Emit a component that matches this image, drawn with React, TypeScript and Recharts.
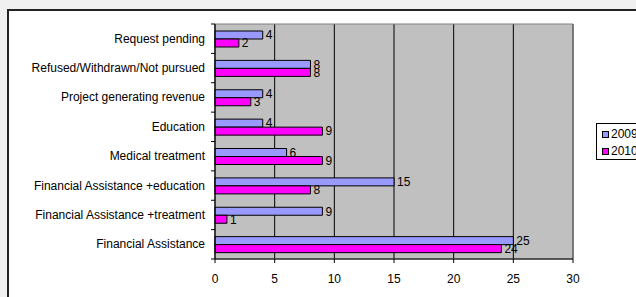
import {
  Bar,
  BarChart,
  CartesianGrid,
  LabelList,
  ReferenceArea,
  XAxis,
  YAxis,
} from 'recharts'

const categories = [
  'Request pending',
  'Refused/Withdrawn/Not pursued',
  'Project generating revenue',
  'Education',
  'Medical treatment',
  'Financial Assistance +education',
  'Financial Assistance +treatment',
  'Financial Assistance',
]
const values2009 = [4, 8, 4, 4, 6, 15, 9, 25]
const values2010 = [2, 8, 3, 9, 9, 8, 1, 24]
const xTicks = [0, 5, 10, 15, 20, 25, 30]

const W = 636
const H = 297
const PLOT_LEFT = 215
const PLOT_RIGHT = 573
const PLOT_TOP = 24
const PLOT_BOTTOM = 259
const X_AXIS_H = 30
const BAND = (PLOT_BOTTOM - PLOT_TOP) / categories.length

const FONT = '"Liberation Sans", Arial, sans-serif'

const data = categories.map((name, i) => ({
  name,
  y2009: values2009[i],
  y2010: values2010[i],
}))

// category label in the middle of the band, tick marks on the band edges
function CategoryTick(props: any) {
  const { y, payload, index } = props
  return (
    <g>
      <text
        x={PLOT_LEFT - 10}
        y={y}
        textAnchor="end"
        dominantBaseline="central"
        fontSize={12}
        fontFamily={FONT}
        fill="#000"
      >
        {payload.value}
      </text>
      <line x1={PLOT_LEFT - 4} x2={PLOT_LEFT} y1={y - BAND / 2} y2={y - BAND / 2} stroke="#000" />
      {index === categories.length - 1 && (
        <line x1={PLOT_LEFT - 4} x2={PLOT_LEFT} y1={y + BAND / 2} y2={y + BAND / 2} stroke="#000" />
      )}
    </g>
  )
}

function LegendBox() {
  const items = [
    { label: '2009', color: '#9999FF' },
    { label: '2010', color: '#FF00FF' },
  ]
  return (
    <div
      style={{
        position: 'absolute',
        left: 596,
        top: 123,
        border: '1px solid #000',
        background: '#fff',
        width: 60,
        height: 37,
        padding: '2px 0 0 5px',
        boxSizing: 'border-box',
        fontFamily: FONT,
        fontSize: 12,
        lineHeight: '17px',
      }}
    >
      {items.map(it => (
        <div key={it.label} style={{ display: 'flex', alignItems: 'center' }}>
          <span
            style={{
              display: 'inline-block',
              width: 5,
              height: 5,
              background: it.color,
              border: '1px solid #000',
              marginRight: 2,
            }}
          />
          {it.label}
        </div>
      ))}
    </div>
  )
}

export default function App() {
  return (
    <div
      style={{
        position: 'fixed',
        left: 0,
        top: 0,
        width: W,
        height: H,
        background: '#f0f0f0',
        overflow: 'hidden',
        fontFamily: FONT,
      }}
    >
      <div
        style={{
          position: 'absolute',
          left: 7,
          top: 9,
          width: 660,
          height: 320,
          border: '2px solid #222',
          background: '#fff',
        }}
      />
      <div style={{ position: 'absolute', left: 0, top: 0 }}>
        <BarChart
          width={W}
          height={H}
          data={data}
          layout="vertical"
          barSize={8}
          barGap={0}
          margin={{
            top: PLOT_TOP,
            right: W - PLOT_RIGHT,
            left: 0,
            bottom: H - PLOT_BOTTOM - X_AXIS_H,
          }}
        >
          <CartesianGrid horizontal={false} stroke="#000" fill="#c0c0c0" />
          <ReferenceArea x1={0} x2={30} fill="none" stroke="#808080" />
          <XAxis
            type="number"
            domain={[0, 30]}
            ticks={xTicks}
            height={X_AXIS_H}
            tickSize={4}
            tickMargin={11}
            stroke="#000"
            tick={{ fill: '#000', fontSize: 12, fontFamily: FONT }}
          />
          <YAxis
            type="category"
            dataKey="name"
            width={PLOT_LEFT}
            stroke="#000"
            tickLine={false}
            tick={<CategoryTick />}
            interval={0}
          />
          <Bar dataKey="y2009" fill="#9999FF" stroke="#000" strokeWidth={1} isAnimationActive={false}>
            <LabelList dataKey="y2009" position="right" offset={3} fontSize={12} fontFamily={FONT} fill="#000" />
          </Bar>
          <Bar dataKey="y2010" fill="#FF00FF" stroke="#000" strokeWidth={1} isAnimationActive={false}>
            <LabelList dataKey="y2010" position="right" offset={3} fontSize={12} fontFamily={FONT} fill="#000" />
          </Bar>
        </BarChart>
      </div>
      <LegendBox />
    </div>
  )
}
